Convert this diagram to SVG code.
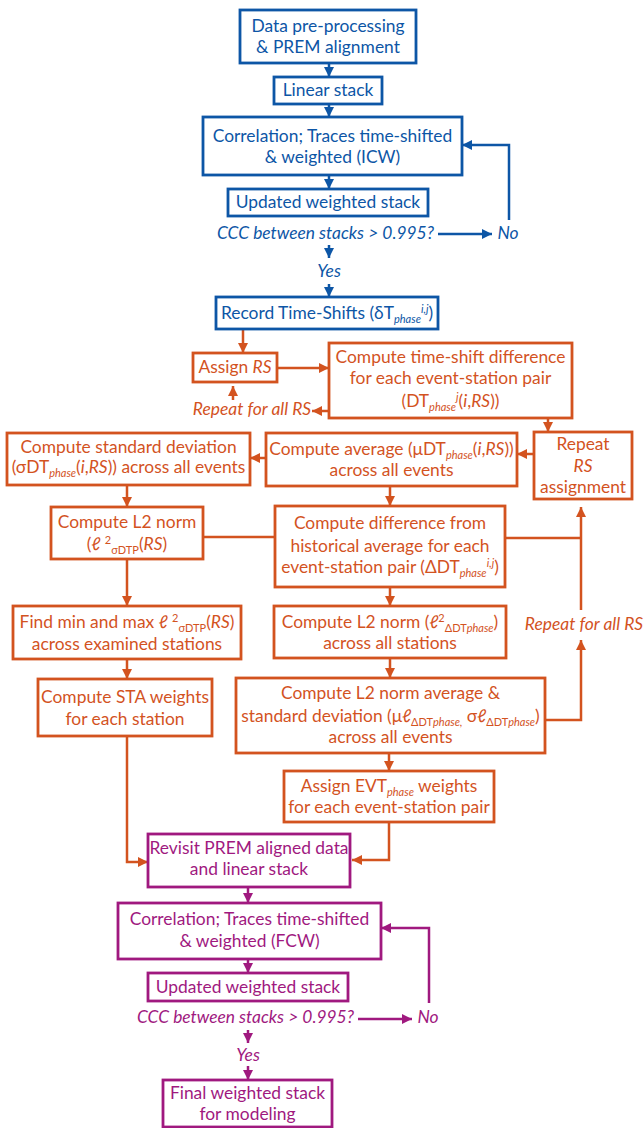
<svg xmlns="http://www.w3.org/2000/svg" width="644" height="1128" viewBox="0 0 644 1128">
<style>
text{font-family:Lato,"Noto Sans","Liberation Sans",sans-serif;font-size:17.4px;text-anchor:middle}
.tb{fill:#0d56a6}.to{fill:#d3531f}.tp{fill:#a0197f}
.bb{fill:#fff;stroke:#0d56a6;stroke-width:2.8}
.bo{fill:#fff;stroke:#d3531f;stroke-width:2.8}
.bp{fill:#fff;stroke:#a0197f;stroke-width:2.8}
.cb{fill:none;stroke:#0d56a6;stroke-width:2.5}
.co{fill:none;stroke:#d3531f;stroke-width:2.5}
.cp{fill:none;stroke:#a0197f;stroke-width:2.5}
.it{font-style:italic}
.s{font-size:11px;font-style:italic}
.su{font-size:11px}
</style>
<defs>
<marker id="mb" viewBox="0 0 10 10" refX="10" refY="5" markerWidth="10" markerHeight="10" markerUnits="userSpaceOnUse" orient="auto"><path d="M0,0 L10,5 L0,10 z" fill="#0d56a6"/></marker>
<marker id="mo" viewBox="0 0 10 10" refX="10" refY="5" markerWidth="10" markerHeight="10" markerUnits="userSpaceOnUse" orient="auto"><path d="M0,0 L10,5 L0,10 z" fill="#d3531f"/></marker>
<marker id="mp" viewBox="0 0 10 10" refX="10" refY="5" markerWidth="10" markerHeight="10" markerUnits="userSpaceOnUse" orient="auto"><path d="M0,0 L10,5 L0,10 z" fill="#a0197f"/></marker>
</defs>

<g id="connectors">
<path class="cb" d="M329,63 V77" marker-end="url(#mb)"/>
<path class="cb" d="M329,104 V117" marker-end="url(#mb)"/>
<path class="cb" d="M329,175 V189" marker-end="url(#mb)"/>
<path class="cb" d="M438,234 H492" marker-end="url(#mb)"/>
<path class="cb" d="M509,220 V145 H462" marker-end="url(#mb)"/>
<path class="cb" d="M329,245 V258" marker-end="url(#mb)"/>
<path class="cb" d="M329,284 V297" marker-end="url(#mb)"/>

<path class="co" d="M243,329 V353" marker-end="url(#mo)"/>
<path class="co" d="M277,368 H329" marker-end="url(#mo)"/>
<path class="co" d="M233,400 V386" marker-end="url(#mo)"/>
<path class="co" d="M329,411 H312" marker-end="url(#mo)"/>
<path class="co" d="M548,418 V432" marker-end="url(#mo)"/>
<path class="co" d="M534,454 H517" marker-end="url(#mo)"/>
<path class="co" d="M266,458 H250" marker-end="url(#mo)"/>
<path class="co" d="M127,485 V507" marker-end="url(#mo)"/>
<path class="co" d="M203,537 H275"/>
<path class="co" d="M127,559 V606" marker-end="url(#mo)"/>
<path class="co" d="M127,659 V679" marker-end="url(#mo)"/>
<path class="co" d="M127,736 V862 H148" marker-end="url(#mo)"/>
<path class="co" d="M390,486 V506" marker-end="url(#mo)"/>
<path class="co" d="M505,538 H581"/>
<path class="co" d="M581,610 V507" marker-end="url(#mo)"/>
<path class="co" d="M545,720 H581 V640" marker-end="url(#mo)"/>
<path class="co" d="M390,587 V606" marker-end="url(#mo)"/>
<path class="co" d="M390,658 V678" marker-end="url(#mo)"/>
<path class="co" d="M389,753 V771" marker-end="url(#mo)"/>
<path class="co" d="M389,822 V860 H352" marker-end="url(#mo)"/>

<path class="cp" d="M248,887 V903" marker-end="url(#mp)"/>
<path class="cp" d="M248,959 V973" marker-end="url(#mp)"/>
<path class="cp" d="M358,1019 H412" marker-end="url(#mp)"/>
<path class="cp" d="M429,1003 V928 H381" marker-end="url(#mp)"/>
<path class="cp" d="M248,1030 V1043" marker-end="url(#mp)"/>
<path class="cp" d="M248,1066 V1080" marker-end="url(#mp)"/>
</g>

<g id="n-data">
<rect class="bb" x="240" y="10" width="176" height="53"/>
<text class="tb" x="328" y="32">Data pre-processing</text>
<text class="tb" x="328" y="53">&amp; PREM alignment</text>
</g>
<g id="n-linear">
<rect class="bb" x="274" y="77" width="108" height="27"/>
<text class="tb" x="328" y="96">Linear stack</text>
</g>
<g id="n-icw">
<rect class="bb" x="203" y="117" width="259" height="58"/>
<text class="tb" x="332.5" y="142">Correlation; Traces time-shifted</text>
<text class="tb" x="332.5" y="163">&amp; weighted (ICW)</text>
</g>
<g id="n-updated1">
<rect class="bb" x="228" y="189" width="200" height="27"/>
<text class="tb" x="328" y="208">Updated weighted stack</text>
</g>
<g id="n-ccc1">
<text class="tb it" x="325.5" y="239">CCC between stacks &gt; 0.995?</text>
<text class="tb it" x="508" y="239">No</text>
<text class="tb it" x="329" y="277">Yes</text>
</g>
<g id="n-record">
<rect class="bb" x="216" y="297" width="222" height="32"/>
<text class="tb" x="327" y="319">Record Time-Shifts (δT<tspan class="s" dy="4">phase</tspan><tspan class="s" dy="-10">i,j</tspan><tspan dy="6">)</tspan></text>
</g>

<g id="n-assign">
<rect class="bo" x="193" y="353" width="84" height="29"/>
<text class="to" x="235" y="373">Assign <tspan class="it">RS</tspan></text>
</g>
<g id="n-repeat-left">
<text class="to it" x="252" y="415">Repeat for all RS</text>
</g>
<g id="n-tsdiff">
<rect class="bo" x="329" y="343" width="243" height="75"/>
<text class="to" x="450.5" y="363">Compute time-shift difference</text>
<text class="to" x="450.5" y="384">for each event-station pair</text>
<text class="to" x="450.5" y="407">(DT<tspan class="s" dy="4">phase</tspan><tspan class="s" dy="-10">j</tspan><tspan dy="6">(</tspan><tspan class="it">i</tspan>,<tspan class="it">RS</tspan>))</text>
</g>
<g id="n-repeat-assign">
<rect class="bo" x="534" y="432" width="98" height="67"/>
<text class="to" x="583" y="450">Repeat</text>
<text class="to it" x="583" y="472">RS</text>
<text class="to" x="583" y="493">assignment</text>
</g>
<g id="n-average">
<rect class="bo" x="266" y="433" width="251" height="53"/>
<text class="to" x="391.5" y="455">Compute average (μDT<tspan class="s" dy="4">phase</tspan><tspan dy="-4">(</tspan><tspan class="it">i</tspan>,<tspan class="it">RS</tspan>))</text>
<text class="to" x="391.5" y="476">across all events</text>
</g>
<g id="n-stddev">
<rect class="bo" x="7" y="433" width="243" height="52"/>
<text class="to" x="128.5" y="453">Compute standard deviation</text>
<text class="to" x="128.5" y="473">(σDT<tspan class="s" dy="4">phase</tspan><tspan dy="-4">(</tspan><tspan class="it">i</tspan>,<tspan class="it">RS</tspan>)) across all events</text>
</g>
<g id="n-l2a">
<rect class="bo" x="51" y="507" width="152" height="52"/>
<text class="to" x="127" y="528">Compute L2 norm</text>
<text class="to" x="127" y="550">(<tspan class="it">ℓ</tspan> <tspan class="su" dy="-6">2</tspan><tspan class="su" dy="10">σDTP</tspan><tspan dy="-4">(</tspan><tspan class="it">RS</tspan>)</text>
</g>
<g id="n-findmin">
<rect class="bo" x="13" y="606" width="228" height="53"/>
<text class="to" x="127" y="628">Find min and max <tspan class="it">ℓ</tspan> <tspan class="su" dy="-6">2</tspan><tspan class="su" dy="10">σDTP</tspan><tspan dy="-4">(</tspan><tspan class="it">RS</tspan>)</text>
<text class="to" x="127" y="650">across examined stations</text>
</g>
<g id="n-sta">
<rect class="bo" x="38" y="679" width="174" height="57"/>
<text class="to" x="125" y="703">Compute STA weights</text>
<text class="to" x="125" y="725">for each station</text>
</g>
<g id="n-diff">
<rect class="bo" x="275" y="506" width="230" height="81"/>
<text class="to" x="390" y="529">Compute difference from</text>
<text class="to" x="390" y="552">historical average for each</text>
<text class="to" x="390" y="573">event-station pair (ΔDT<tspan class="s" dy="4">phase</tspan><tspan class="s" dy="-10">i,j</tspan><tspan dy="6">)</tspan></text>
</g>
<g id="n-l2b">
<rect class="bo" x="274" y="606" width="232" height="52"/>
<text class="to" x="390" y="628">Compute L2 norm (<tspan class="it">ℓ</tspan><tspan class="su" dy="-6">2</tspan><tspan class="su" dy="10">ΔDT</tspan><tspan class="s">phase</tspan><tspan dy="-4">)</tspan></text>
<text class="to" x="390" y="649">across all stations</text>
</g>
<g id="n-repeat-right">
<text class="to it" x="584" y="630">Repeat for all RS</text>
</g>
<g id="n-l2avg">
<rect class="bo" x="236" y="678" width="309" height="75"/>
<text class="to" x="390.5" y="699">Compute L2 norm average &amp;</text>
<text class="to" x="390.5" y="722">standard deviation (μ<tspan class="it">ℓ</tspan><tspan class="su" dy="4">ΔDT</tspan><tspan class="s">phase,</tspan><tspan dy="-4"> σ</tspan><tspan class="it">ℓ</tspan><tspan class="su" dy="4">ΔDT</tspan><tspan class="s">phase</tspan><tspan dy="-4">)</tspan></text>
<text class="to" x="390.5" y="743">across all events</text>
</g>
<g id="n-evt">
<rect class="bo" x="284" y="771" width="210" height="51"/>
<text class="to" x="389" y="792">Assign EVT<tspan class="s" dy="4">phase</tspan><tspan dy="-4"> weights</tspan></text>
<text class="to" x="389" y="813">for each event-station pair</text>
</g>

<g id="n-revisit">
<rect class="bp" x="148" y="834" width="202" height="53"/>
<text class="tp" x="249" y="854">Revisit PREM aligned data</text>
<text class="tp" x="249" y="875">and linear stack</text>
</g>
<g id="n-fcw">
<rect class="bp" x="118" y="903" width="263" height="56"/>
<text class="tp" x="249.5" y="925">Correlation; Traces time-shifted</text>
<text class="tp" x="249.5" y="947">&amp; weighted (FCW)</text>
</g>
<g id="n-updated2">
<rect class="bp" x="148" y="973" width="200" height="28"/>
<text class="tp" x="248" y="993">Updated weighted stack</text>
</g>
<g id="n-ccc2">
<text class="tp it" x="245.5" y="1023">CCC between stacks &gt; 0.995?</text>
<text class="tp it" x="428" y="1023">No</text>
<text class="tp it" x="248" y="1061">Yes</text>
</g>
<g id="n-final">
<rect class="bp" x="163" y="1080" width="169" height="47"/>
<text class="tp" x="247.5" y="1099">Final weighted stack</text>
<text class="tp" x="247.5" y="1120">for modeling</text>
</g>
</svg>
